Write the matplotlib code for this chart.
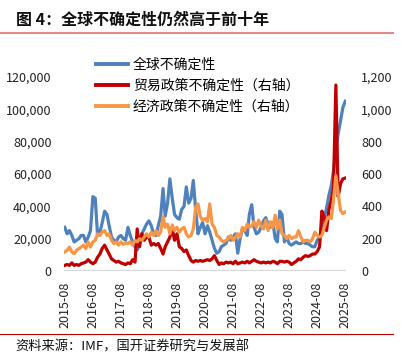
import matplotlib.pyplot as plt
import pandas as pd
from matplotlib.lines import Line2D

plt.rcParams['font.family'] = ['Noto Sans CJK SC', 'DejaVu Sans']

# monthly data, 2015-08 .. 2025-08
months = pd.date_range("2015-08-01", "2025-08-01", freq="MS")

# 全球不确定性 (left axis)
wui = [27, 23, 25, 22, 18, 19, 20, 22, 22, 18, 21, 25, 46, 45, 22, 24, 30, 37, 35, 28,
       21, 19, 18, 21, 22, 20, 19, 27, 22, 18, 15, 13, 17, 23, 26, 29, 31, 28, 23, 22,
       28, 34, 51, 34, 42, 57, 45, 35, 33, 32, 38, 40, 52, 42, 45, 56, 38, 23, 27, 30,
       23, 28, 24, 19, 14, 11, 12, 15, 16, 17, 21, 19, 21, 23, 11, 20, 26, 25, 22, 35,
       41, 27, 23, 24, 27, 31, 33, 29, 27, 30, 20, 18, 37, 35, 18, 21, 17, 16, 17, 18,
       17, 17, 18, 17, 17, 16, 15, 15, 19, 21, 25, 33, 39, 47, 53, 62, 75, 85, 93, 101,
       105]
wui = [v * 1000 for v in wui]

# 贸易政策不确定性 (right axis)
tpu = [35, 40, 35, 50, 35, 40, 35, 45, 50, 55, 70, 55, 45, 55, 85, 105, 140, 160, 130, 105,
       75, 65, 55, 60, 50, 45, 40, 50, 45, 70, 55, 260, 150, 230, 190, 210, 210, 160, 170, 160,
       170, 140, 105, 150, 180, 210, 260, 190, 230, 150, 140, 120, 130, 95, 65, 55, 65, 60, 65, 60,
       65, 70, 65, 75, 95, 65, 40, 50, 45, 55, 50, 55, 45, 60, 45, 50, 55, 50, 60, 50,
       60, 70, 60, 55, 50, 55, 50, 55, 50, 60, 55, 45, 60, 60, 55, 60, 55, 40, 50, 60,
       75, 70, 85, 95, 90, 95, 105, 105, 120, 150, 370, 330, 250, 380, 440, 520, 1150, 460, 540, 570,
       575]

# 经济政策不确定性 (right axis)
epu = [118, 128, 148, 118, 107, 128, 138, 148, 160, 138, 180, 148, 180, 190, 230, 220, 240, 250, 220, 230,
       190, 170, 180, 160, 180, 165, 173, 170, 180, 160, 190, 180, 200, 190, 210, 230, 210, 240, 220, 250,
       220, 240, 335, 270, 290, 230, 285, 250, 270, 240, 260, 270, 230, 210, 220, 260, 395, 415, 335, 315,
       325, 305, 415, 290, 270, 220, 210, 190, 180, 190, 200, 220, 190, 210, 230, 210, 270, 250, 290, 270,
       280, 305, 270, 315, 280, 260, 315, 250, 305, 270, 345, 260, 315, 230, 220, 200, 220, 200, 210, 210,
       250, 210, 180, 190, 190, 180, 200, 240, 220, 210, 220, 270, 315, 335, 325, 440, 590, 480, 375, 355,
       365]

labels = ["全球不确定性", "贸易政策不确定性（右轴）", "经济政策不确定性（右轴）"]
colors = ["#4f81bd", "#c00000", "#f79646"]
tick_dates = pd.date_range("2015-08-01", "2025-08-01", freq="12MS")

fig = plt.figure(figsize=(4.01, 3.59), dpi=100)
ax = fig.add_axes([64 / 401, 1 - 271 / 359, 282 / 401, 194 / 359])
ax2 = ax.twinx()

ax.plot(months, wui, color=colors[0], lw=2.3, solid_joinstyle="round")
ax2.plot(months, tpu, color=colors[1], lw=2.3, solid_joinstyle="round")
ax2.plot(months, epu, color=colors[2], lw=2.3, solid_joinstyle="round")

ax.set_ylim(0, 120000)
ax2.set_ylim(0, 1200)
ax.set_yticks(range(0, 120001, 20000))
ax.set_yticklabels([f"{v:,}" for v in range(0, 120001, 20000)])
ax2.set_yticks(range(0, 1201, 200))
ax2.set_yticklabels([f"{v:,}" for v in range(0, 1201, 200)])
ax.set_xlim(months[0] - pd.Timedelta(days=10), months[-1] + pd.Timedelta(days=10))
ax.set_xticks(tick_dates)
ax.set_xticklabels([d.strftime("%Y-%m") for d in tick_dates], rotation=90)

for a in (ax, ax2):
    for s in a.spines.values():
        s.set_visible(False)
    a.tick_params(length=0, labelsize=9, colors="#222222")
ax.tick_params(axis="y", pad=9)
ax2.tick_params(axis="y", pad=11)
ax.tick_params(axis="x", pad=8)
ax.axhline(0, color="#d9d9d9", lw=2.5, zorder=0)

handles = [Line2D([], [], color=c, lw=2.8) for c in colors]
fig.legend(handles, labels, loc="upper left", bbox_to_anchor=(90 / 401, 1 - 52 / 359),
           frameon=False, fontsize=10, handlelength=2.3, handletextpad=0.4,
           labelspacing=0.5, borderaxespad=0)

fig.text(16 / 401, 1 - 20 / 359, "图 4：全球不确定性仍然高于前十年", fontsize=11.5,
         fontweight="bold", va="center", ha="left", color="#111111")
fig.add_artist(Line2D([0, 393 / 401], [1 - 33 / 359, 1 - 33 / 359], color="#e08c8c", lw=1.5))
fig.add_artist(Line2D([0, 393 / 401], [1 - 334 / 359, 1 - 334 / 359], color="#c00000", lw=0.8))
fig.text(15 / 401, 1 - 347 / 359, "资料来源：IMF，国开证券研究与发展部", fontsize=9.5,
         va="center", ha="left", color="#111111")

fig.savefig("out.png", dpi=100)
